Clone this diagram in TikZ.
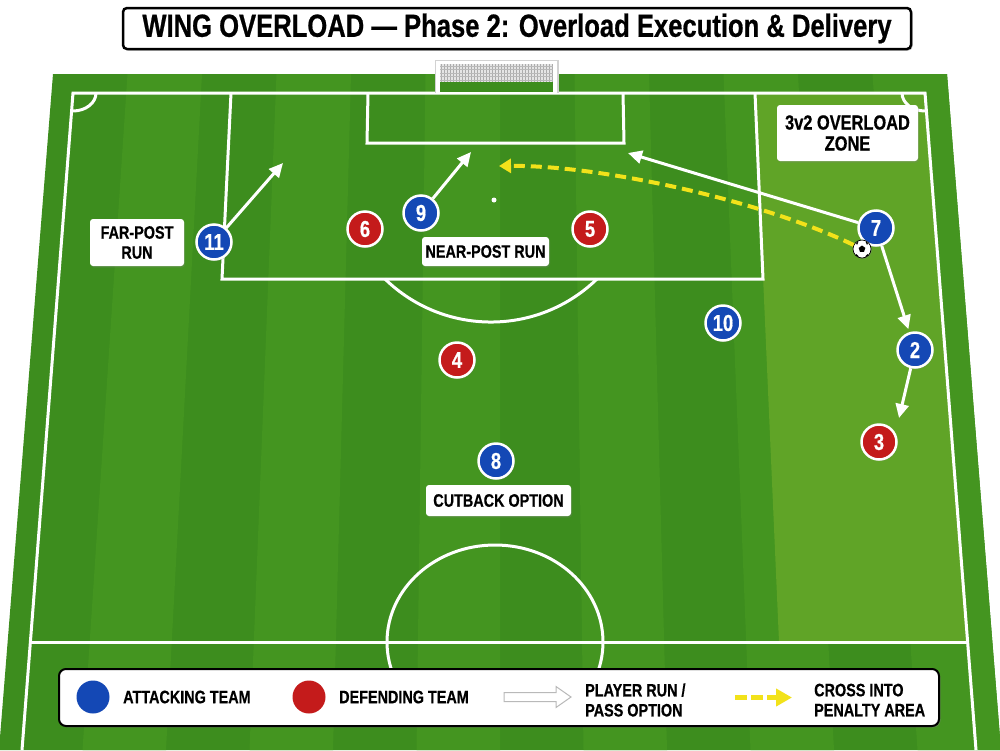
\documentclass[tikz,border=0pt]{standalone}
\usepackage{fontspec}
\setmainfont{Liberation Sans}
\newfontfamily\cf{Liberation Sans}[FakeStretch=0.8, BoldFeatures={FakeBold=0.6}]
\usetikzlibrary{arrows.meta,shadows}
\definecolor{pitchA}{HTML}{3D8D1E}
\definecolor{pitchB}{HTML}{449520}
\definecolor{zonec}{HTML}{60A427}
\definecolor{atk}{HTML}{1448B5}
\definecolor{defc}{HTML}{C41B1B}
\definecolor{crossy}{HTML}{F2E21A}
\tikzset{
  pline/.style={draw=white, line width=3pt},
  lbl/.style={fill=white, rounded corners=3pt, inner sep=0pt, align=center,
    font=\cf\bfseries\fontsize{18}{20}\selectfont,
    drop shadow={opacity=0.25, shadow xshift=1pt, shadow yshift=-1.5pt}},
  player/.style={circle, draw=white, line width=2.5pt, minimum size=35pt, inner sep=0pt,
    text=white, font=\cf\bfseries\fontsize{23}{23}\selectfont,
    drop shadow={opacity=0.3, shadow xshift=1pt, shadow yshift=-1.5pt}},
  atkp/.style={player, fill=atk},
  defp/.style={player, fill=defc},
  run/.style={draw=white, line width=3pt, -{Triangle[length=14pt,width=13pt]}},
  crossarrow/.style={draw=crossy, line width=4pt, dash pattern=on 11pt off 6pt,
    -{Triangle[length=12pt,width=14pt]}},
  legtext/.style={anchor=west, align=left, inner sep=0pt,
    font=\cf\bfseries\fontsize{18}{20}\selectfont}
}
\begin{document}
\begin{tikzpicture}[x=1pt,y=-1pt]
\useasboundingbox (0,0) rectangle (1000,750);
\fill[white] (0,0) rectangle (1000,750);
% pitch base
\fill[pitchA] (53,74) -- (947,74) -- (1001,750) -- (-1,750) -- cycle;
\foreach \i in {1,3,...,11} {
  \fill[pitchB] ({53+\i*74.5},74) -- ({53+(\i+1)*74.5},74) -- ({-1+(\i+1)*83.5},750) -- ({-1+\i*83.5},750) -- cycle;
}
% overload zone
\fill[zonec] (755,93) -- (925,93) -- (967.6,642) -- (779,642) -- cycle;
% lines
\draw[pline] (22,750) -- (73,93) -- (925,93) -- (976,750);
\draw[pline] (30.4,642) -- (967.6,642);
\draw[pline] (231,93) -- (222,279) -- (763,279) -- (755,93);
\draw[pline] (368,93) -- (367,143) -- (624,143) -- (623,93);
\draw[pline] (96,93) arc[start angle=0, end angle=-90, x radius=23pt, y radius=18pt];
\draw[pline] (902,93) arc[start angle=180, end angle=270, x radius=23pt, y radius=18pt];
\draw[pline] (385,279) arc[start angle=-134.2, end angle=-45.8, radius=152pt];
\begin{scope}
\clip (0,0) rectangle (1000,726);
\draw[pline] (495,642) ellipse[x radius=108pt, y radius=97pt];
\end{scope}
\fill[white] (494,200) circle[radius=2.5pt];
% goal
\fill[gray!35] (434.5,59.5) rectangle (558.5,93);
\fill[white] (436,61) rectangle (557,93);
\fill[pitchA] (440,64) rectangle (553,92);
\fill[gray!20] (440,64) rectangle (553,82);
\foreach \gx in {441,444,...,552} { \draw[gray!65, line width=0.5pt] (\gx,64) -- (\gx,82); }
\foreach \gy in {66,69.5,73,76.5,80} { \draw[gray!55, line width=0.5pt] (440,\gy) -- (553,\gy); }
% labels
\node[lbl, minimum width=94pt, minimum height=47pt] (lfar) at (137,242.5) {FAR-POST\\RUN};
\node[lbl, minimum width=127pt, minimum height=29pt] (lnear) at (485.5,251.5) {NEAR-POST RUN};
\node[lbl, minimum width=141pt, minimum height=56pt, font=\cf\bfseries\fontsize{20.5}{21}\selectfont] (lzone) at (847.5,133) {3v2 OVERLOAD\\ZONE};
\node[lbl, minimum width=145pt, minimum height=31pt] (lcut) at (498.5,500.5) {CUTBACK OPTION};
% players
\node[atkp] (p11) at (214,242) {11};
\node[atkp] (p9) at (421,213) {9};
\node[defp] (p6) at (365,229) {6};
\node[defp] (p5) at (590,229) {5};
\node[atkp] (p7) at (876,228) {7};
\node[atkp] (p10) at (723,323) {10};
\node[atkp] (p2) at (915,350) {2};
\node[defp] (p3) at (879,442) {3};
\node[defp] (p4) at (457,360) {4};
\node[atkp] (p8) at (496,461) {8};
% ball
\node[circle, fill=white, draw=black, line width=0.7pt, minimum size=18pt, inner sep=0pt,
  drop shadow={opacity=0.3, shadow xshift=1pt, shadow yshift=-1pt}] (ball) at (862,249) {};
\fill[black] (862,245.5) -- (865.3,247.9) -- (864,251.8) -- (860,251.8) -- (858.7,247.9) -- cycle;
\fill[black] (856,243) -- (858.5,241.5) -- (857,245) -- cycle;
\fill[black] (868,243) -- (865.5,241.5) -- (867,245) -- cycle;
\fill[black] (856.5,254) -- (859,256.8) -- (855.5,255.5) -- cycle;
\fill[black] (867.5,254) -- (865,256.8) -- (868.5,255.5) -- cycle;
% targets
\coordinate (t11) at (283,163);
\coordinate (t9) at (471,152);
\coordinate (t7) at (628,153);
\coordinate (t2) at (899,418);
\coordinate (tc) at (499,166);
% arrows
\draw[crossarrow] (ball) .. controls (760,200) and (600,165) .. (tc);
\draw[run] (p11) -- (t11);
\draw[run] (p9) -- (t9);
\draw[run] (p7) -- (t7);
\draw[run, shorten >=3pt] (p7) -- (p2);
\draw[run] (p2) -- (t2);
% title
\node[draw=black, line width=2.5pt, fill=white, rounded corners=4pt, minimum width=788pt,
  minimum height=41pt, inner sep=0pt,
  drop shadow={opacity=0.5, shadow xshift=1.5pt, shadow yshift=-1.5pt},
  font=\cf\bfseries\fontsize{32}{32}\selectfont] (title) at (517,28.5)
  {WING OVERLOAD — Phase 2: Overload Execution \& Delivery};
% legend
\node[draw=black, line width=2pt, fill=white, rounded corners=7pt, minimum width=880pt,
  minimum height=57pt, inner sep=0pt,
  drop shadow={opacity=0.4, shadow xshift=1.5pt, shadow yshift=-1.5pt}] (legend) at (499,697.5) {};
\node[circle, fill=atk, minimum size=33pt, inner sep=0pt] (la) at (93,697) {};
\node[legtext] (lat) at (123,697) {ATTACKING TEAM};
\node[circle, fill=defc, minimum size=33pt, inner sep=0pt] (ld) at (309,697) {};
\node[legtext] (ldt) at (339,697) {DEFENDING TEAM};
\coordinate (hr) at (504,697);
\fill[white, draw=gray!55, line width=1pt] (hr) -- ++(0,-4.5) -- ++(52,0) -- ++(0,-6) -- ++(15,10.5) -- ++(-15,10.5) -- ++(0,-6) -- ++(-52,0) -- cycle;
\node[legtext] (lrun) at (585,700) {PLAYER RUN /\\PASS OPTION};
\coordinate (ys) at (735,697.5);
\coordinate (ye) at (792,697.5);
\draw[draw=crossy, line width=5pt, dash pattern=on 12pt off 4pt, -{Triangle[length=16pt,width=17pt]}] (ys) -- (ye);
\node[legtext] (lcross) at (814,700) {CROSS INTO\\PENALTY AREA};
\end{tikzpicture}
\end{document}
